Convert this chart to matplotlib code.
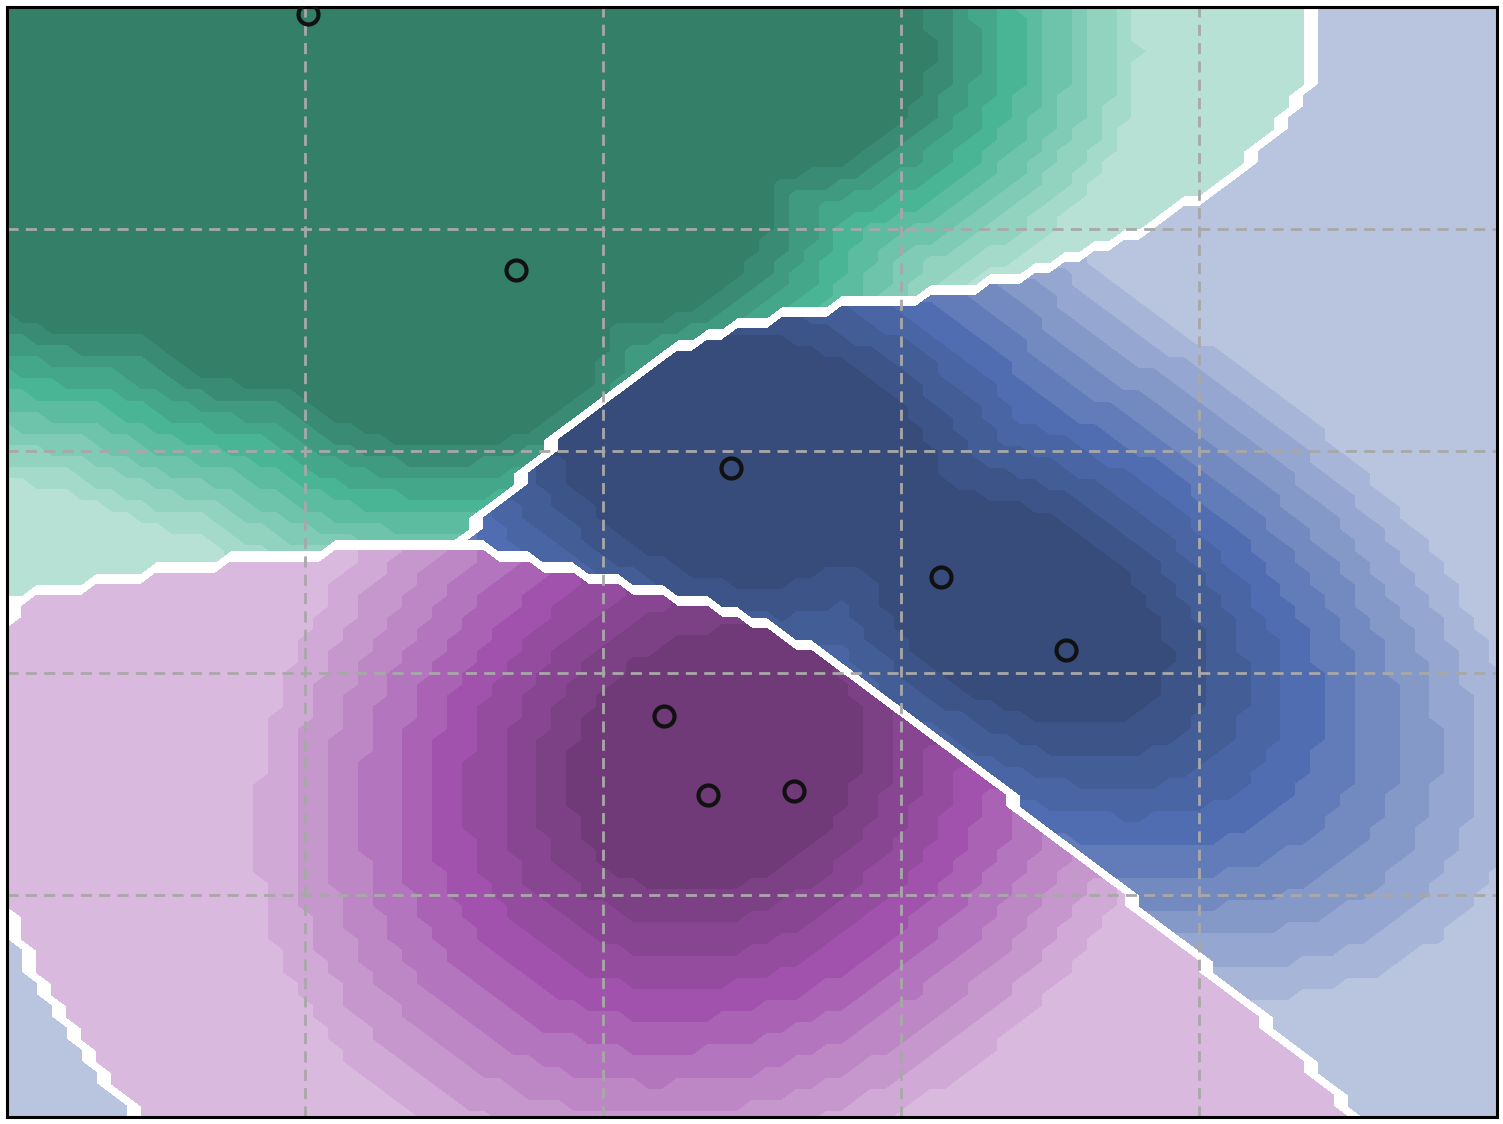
import numpy as np
import matplotlib
matplotlib.use('Agg')
import matplotlib.pyplot as plt
from matplotlib.colors import to_rgb

## points shown on the plot
point_x = [1.010, 1.708, 2.430, 3.134, 3.554, 2.205, 2.352, 2.641]
point_y = [4.968, 3.815, 2.923, 2.432, 2.104, 1.806, 1.450, 1.468]

class_names = ['green', 'blue', 'purple']
class_colors = ['#4ab595', '#4f6db0', '#a052ac']

## decision function coefficients per class (x, y centred on 2.5)
## terms: 1, x, y, x^2, xy, y^2, x^3, x^2y, xy^2, y^3, x^4, x^3y, x^2y^2, xy^3, y^4
green_coef = [-11.527, -15.113, -1.983, -10.471, -12.510, 15.990, -2.979, 17.321, 3.494, 10.789,
              0.710, -5.204, 4.120, -4.106, -3.152]
blue_coef = [8.884, 10.397, 11.278, 6.717, -12.098, -11.040, 8.944, -9.247, -11.698, 1.234,
             2.713, 3.580, -1.567, 2.468, 3.278]
purple_coef = [2.644, 4.716, -9.295, 3.754, 24.608, -4.950, -5.965, -8.075, 8.204, -12.023,
               -3.423, 1.624, -2.554, 1.638, -0.126]

## density centres and kernel covariance for the shading of each class
green_centers = [(0.346, 4.806), (0.346, 4.086), (0.849, 4.446), (0.916, 3.860), (1.319, 4.671),
                 (1.453, 3.590), (2.158, 4.761), (2.527, 4.806), (1.990, 4.131)]
blue_centers = [(2.326, 2.914), (2.661, 3.005), (3.399, 2.284)]
purple_centers = [(2.376, 1.608)]
green_cov = [[0.14892, 0.0], [0.0, 0.14660]]
blue_cov = [[0.41644, -0.18638], [-0.18638, 0.46148]]
purple_cov = [[0.33698, 0.06480], [0.06480, 0.50676]]
core_radius = [1.5, 0.78, 0.85]
band_step = 0.2
n_bands = 11


def features(x, y):
    x = x - 2.5
    y = y - 2.5
    return np.c_[np.ones_like(x), x, y, x * x, x * y, y * y, x ** 3, x * x * y, x * y * y, y ** 3,
                 x ** 4, x ** 3 * y, x * x * y * y, x * y ** 3, y ** 4]


def ramp(mid):
    # dark -> mid -> light, mid sits at 40%
    m = np.array(to_rgb(mid))
    light = m + 0.6 * (1 - m)
    dark = 0.7 * m
    out = []
    for t in np.linspace(0, 1, n_bands):
        if t <= 0.4:
            out.append(dark + (m - dark) * t / 0.4)
        else:
            out.append(m + (light - m) * (t - 0.4) / 0.6)
    return out


gv = np.linspace(0, 5, 101)
X, Y = np.meshgrid(gv, gv)
grid_pts = np.c_[X.ravel(), Y.ravel()]

coef = np.array([green_coef, blue_coef, purple_coef]).T
label = (features(grid_pts[:, 0], grid_pts[:, 1]) @ coef).argmax(1).reshape(X.shape)

centers = [green_centers, blue_centers, purple_centers]
covs = [green_cov, blue_cov, purple_cov]

fig = plt.figure(figsize=(7.515, 5.62), dpi=200)
ax = fig.add_axes([7 / 1503, 1 - 1117 / 1124, 1490 / 1503, 1110 / 1124])

for c in range(3):
    inv = np.linalg.inv(np.array(covs[c]))
    dists = []
    for cc in centers[c]:
        D = grid_pts - np.array(cc)
        dists.append(np.sqrt(np.einsum('ij,jk,ik->i', D, inv, D)))
    d = np.min(dists, axis=0).reshape(X.shape)
    band = np.clip(np.ceil((d - core_radius[c]) / band_step), 0, n_bands - 1)
    Z = np.ma.masked_where(label != c, band)
    ax.contourf(X, Y, Z, levels=np.arange(-0.5, n_bands), colors=ramp(class_colors[c]))

ax.plot(point_x, point_y, 'o', ms=7.2, mfc='none', mec='#111111', mew=1.5, zorder=5)

ax.set_xlim(0, 5)
ax.set_ylim(0, 5)
ax.set_xticks([1, 2, 3, 4])
ax.set_yticks([1, 2, 3, 4])
ax.tick_params(length=0, labelbottom=False, labelleft=False)
ax.grid(True, color='#a8a8a8', lw=1, dashes=(4, 2.6))
for s in ax.spines.values():
    s.set_linewidth(1.1)
    s.set_color('black')

fig.savefig('out.png')
